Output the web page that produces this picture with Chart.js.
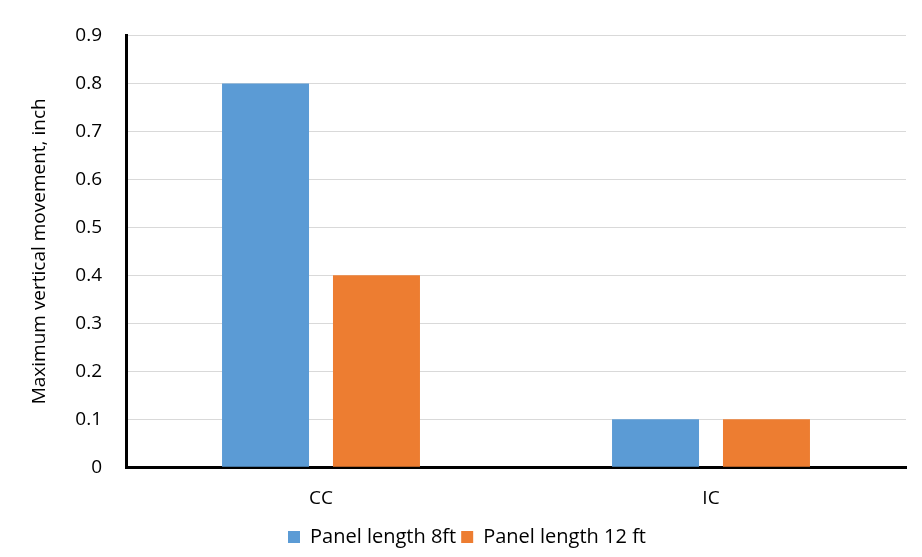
<!DOCTYPE html>
<html>
<head>
<meta charset="utf-8">
<script src="https://cdn.jsdelivr.net/npm/chart.js@4/dist/chart.umd.min.js"></script>
<style>
	html, body { margin: 0; padding: 0; background: #fff; }
	#wrap { width: 922px; height: 557px; }
</style>
</head>
<body>
<div id="wrap"><canvas id="barChart" width="922" height="557"></canvas></div>
<script>
	// data
	var categories = ['CC', 'IC'];
	var panel8ft = [0.8, 0.1];
	var panel12ft = [0.4, 0.1];
	var yTicks = [0, 0.1, 0.2, 0.3, 0.4, 0.5, 0.6, 0.7, 0.8, 0.9];

	var fontFamily = '"Open Sans", "Noto Sans", sans-serif';

	var barChartCtx = document.getElementById('barChart').getContext('2d');
	var barChart = new Chart(barChartCtx, {
		type: 'bar',
		data: {
			labels: categories,
			datasets: [{
					label: 'Panel length 8ft',
					backgroundColor: '#5b9bd5',
					data: panel8ft
				},
				{
					label: 'Panel length 12 ft',
					backgroundColor: '#ed7d31',
					data: panel12ft
				}
			]
		},
		options: {
			responsive: false,
			animation: false,
			categoryPercentage: 0.569,
			barPercentage: 0.784,
			layout: {
				padding: { top: 33, right: 16, left: 28, bottom: 0 }
			},
			plugins: {
				legend: {
					position: 'bottom',
					labels: {
						boxWidth: 12,
						boxHeight: 12,
						padding: 5,
						color: '#000',
						font: { family: fontFamily, size: 20 }
					}
				},
				tooltip: { enabled: false }
			},
			scales: {
				x: {
					grid: { display: false },
					border: { display: true, color: '#000', width: 3 },
					ticks: {
						color: '#000',
						padding: 12,
						font: { family: fontFamily, size: 19 }
					}
				},
				y: {
					min: 0,
					max: 0.9,
					afterBuildTicks: function(axis) {
						axis.ticks = yTicks.map(function(v) { return { value: v }; });
					},
					afterFit: function(axis) {
						axis.width = 98;
					},
					grid: { color: '#d9d9d9', lineWidth: 1, drawTicks: false },
					border: { display: true, color: '#000', width: 3 },
					ticks: {
						color: '#000',
						padding: 24,
						font: { family: fontFamily, size: 19 },
						callback: function(v) { return String(Math.round(v * 10) / 10); }
					},
					title: {
						display: true,
						text: 'Maximum vertical movement, inch',
						color: '#000',
						padding: 0,
						font: { family: fontFamily, size: 19 }
					}
				}
			}
		}
	});
</script>
</body>
</html>
